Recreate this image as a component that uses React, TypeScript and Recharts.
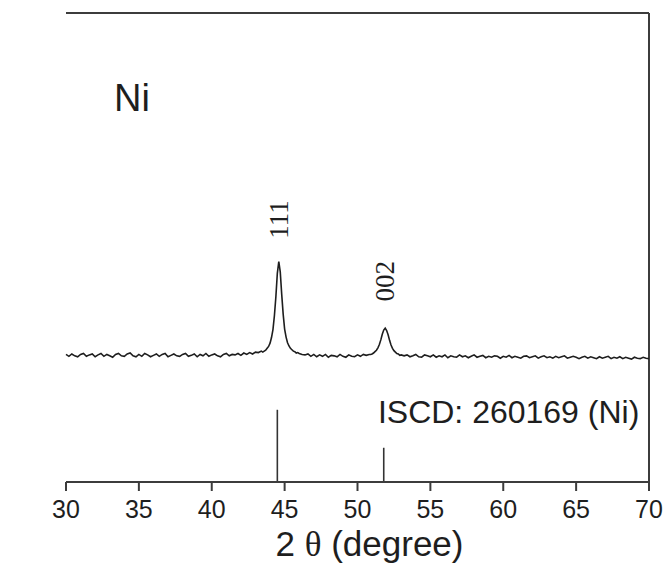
import {
  ComposedChart,
  Line,
  ReferenceDot,
  ReferenceLine,
  XAxis,
  YAxis,
} from "recharts";

// XRD scan, stored as runs of equally spaced samples (finer steps across the peaks)
const scanLeft = {
  start: 30.0,
  step: 0.2,
  counts: [
    27.2, 26.8, 27.3, 26.9, 26.7, 27.2, 27.4, 26.8, 27.1, 27.3,
    26.7, 27.1, 27.4, 26.8, 27.2, 26.9, 26.6, 27.2, 27.4, 26.9,
    26.8, 27.3, 27.5, 26.9, 26.7, 27.2, 26.8, 27.4, 27.1, 26.7,
    27.0, 27.3, 26.8, 27.2, 27.4, 26.7, 27.0, 27.3, 26.9, 26.8,
    27.2, 27.4, 26.8, 27.0, 27.3, 26.7, 27.2, 26.9, 27.4, 26.8,
    27.1, 27.3, 26.9, 26.7, 27.2, 27.4, 26.9, 27.2, 27.1, 27.4,
    27.0, 27.5, 27.2, 27.6, 27.3, 27.7, 27.6, 27.9,
  ],
};

const scanPeak111 = {
  start: 43.5,
  step: 0.1,
  counts: [
    27.7, 27.9, 28.1, 28.5, 28.9, 29.6, 30.8, 32.5, 35.5, 39.5, 44.5, 47.0,
    44.8, 40.0, 35.8, 32.6, 30.9, 29.7, 29.0, 28.5, 28.2, 27.9, 27.8, 27.5,
    27.6,
  ],
};

const scanMid = {
  start: 46.0,
  step: 0.2,
  counts: [
    27.4, 27.2, 27.1, 27.3, 26.8, 27.2, 26.7, 27.1, 26.8, 27.2,
    26.6, 27.0, 26.9, 26.7, 27.2, 26.8, 26.6, 27.1, 26.8, 26.7,
    27.1, 26.8, 27.2, 27.0, 27.2,
  ],
};

const scanPeak002 = {
  start: 50.9,
  step: 0.1,
  counts: [
    27.2, 27.3, 27.5, 27.8, 28.1, 28.6, 29.3, 30.3, 31.5, 32.4, 32.8,
    32.3, 31.4, 30.2, 29.2, 28.5, 28.0, 27.7, 27.4, 27.3, 27.0, 27.1,
  ],
};

const scanRight = {
  start: 53.2,
  step: 0.2,
  counts: [
    26.9, 27.1, 26.7, 26.9, 27.2, 26.7, 26.6, 27.1, 26.9, 26.7,
    27.1, 26.6, 26.9, 26.7, 27.1, 26.5, 26.9, 26.7, 26.6, 27.1,
    26.7, 26.9, 26.5, 26.8, 27.1, 26.6, 26.8, 27.0, 26.5, 26.8,
    26.6, 26.9, 26.8, 26.4, 26.8, 26.6, 27.0, 26.5, 26.8, 26.6,
    26.4, 26.8, 26.9, 26.5, 26.7, 26.9, 26.4, 26.7, 26.9, 26.5,
    26.7, 26.4, 26.8, 26.5, 26.7, 26.9, 26.4, 26.6, 26.8, 26.6,
    26.3, 26.6, 26.8, 26.4, 26.7, 26.5, 26.3, 26.7, 26.4, 26.6,
    26.8, 26.3, 26.6, 26.4, 26.7, 26.3, 26.6, 26.4, 26.2, 26.6,
    26.4, 26.3, 26.6, 26.4, 26.3,
  ],
};

// ICSD reference pattern for Ni
const refAngles = [44.5, 51.8];
const refIntensity = [15.4, 7.3];

// Miller indices over the measured peaks
const peakLabels = ["111", "002"];
const peakAngles = [44.6, 51.9];
const peakTops = [47.0, 32.8];

const xTicks = [30, 35, 40, 45, 50, 55, 60, 65, 70];

const scanData = [scanLeft, scanPeak111, scanMid, scanPeak002, scanRight].flatMap(
  (run) =>
    run.counts.map((counts, i) => ({
      angle: Number((run.start + i * run.step).toFixed(2)),
      counts,
    }))
);

const sans = "'Liberation Sans', Arial, sans-serif";
const serif = "'Liberation Serif', 'Times New Roman', serif";
const ink = "#1e1e1e";
const frame = "#3c3c3c";

const rotatedLabel =
  (text: string, lift: number) =>
  ({ viewBox }: any) => {
    const cx = viewBox.x + viewBox.width / 2;
    const cy = viewBox.y + viewBox.height / 2 - lift;
    return (
      <text
        x={cx}
        y={cy}
        transform={`rotate(-90, ${cx}, ${cy})`}
        textAnchor="middle"
        dominantBaseline="central"
        fontFamily={serif}
        fontSize={27}
        fill={ink}
      >
        {text}
      </text>
    );
  };

const plainLabel =
  (text: string, size: number) =>
  ({ viewBox }: any) => (
    <text
      x={viewBox.x + viewBox.width / 2}
      y={viewBox.y + viewBox.height / 2}
      fontFamily={sans}
      fontSize={size}
      fill={ink}
    >
      {text}
    </text>
  );

const XTitle = ({ viewBox }: any) => (
  <text
    x={viewBox.x + viewBox.width / 2 + 12}
    y={viewBox.y + 74}
    textAnchor="middle"
    fontFamily={sans}
    fontSize={35}
    fill={ink}
  >
    2 <tspan fontFamily={serif}>θ</tspan> (degree)
  </text>
);

const YTitle = ({ viewBox }: any) => {
  const cx = 29;
  const cy = viewBox.y + viewBox.height / 2;
  return (
    <text
      x={cx}
      y={cy}
      transform={`rotate(-90, ${cx}, ${cy})`}
      textAnchor="middle"
      dominantBaseline="central"
      fontFamily={sans}
      fontSize={35}
      fill={ink}
    >
      Intensity (a.u.)
    </text>
  );
};

export default function App() {
  return (
    <div style={{ width: 669, height: 565, background: "#fff" }}>
      <style>{"body{margin:0}"}</style>
      <ComposedChart
        width={669}
        height={565}
        data={scanData}
        margin={{ top: 13, right: 20, bottom: 53, left: 66 }}
      >
        <XAxis
          dataKey="angle"
          type="number"
          domain={[30, 70]}
          ticks={xTicks}
          tickSize={9}
          tickMargin={9}
          axisLine={{ stroke: frame, strokeWidth: 2 }}
          tickLine={{ stroke: frame, strokeWidth: 2 }}
          tick={{ fill: ink, fontSize: 25, fontFamily: sans }}
          label={<XTitle />}
        />
        <YAxis
          type="number"
          domain={[0, 100]}
          width={0}
          tick={false}
          tickLine={false}
          axisLine={{ stroke: frame, strokeWidth: 2 }}
          label={<YTitle />}
        />
        <ReferenceLine y={100} stroke={frame} strokeWidth={2} />
        <ReferenceLine x={70} stroke={frame} strokeWidth={2} />

        {refAngles.map((angle, i) => (
          <ReferenceLine
            key={angle}
            segment={[
              { x: angle, y: 0 },
              { x: angle, y: refIntensity[i] },
            ]}
            stroke="#333"
            strokeWidth={1.6}
          />
        ))}

        <Line
          dataKey="counts"
          type="linear"
          stroke={ink}
          strokeWidth={1.6}
          dot={false}
          isAnimationActive={false}
        />

        {peakLabels.map((text, i) => (
          <ReferenceDot
            key={text}
            x={peakAngles[i]}
            y={peakTops[i]}
            r={1}
            fill="none"
            stroke="none"
            label={rotatedLabel(text, i === 0 ? 42 : 47)}
          />
        ))}

        <ReferenceDot
          x={33.3}
          y={79}
          r={1}
          fill="none"
          stroke="none"
          label={plainLabel("Ni", 38)}
        />
        <ReferenceDot
          x={51.4}
          y={12.6}
          r={1}
          fill="none"
          stroke="none"
          label={plainLabel("ISCD: 260169 (Ni)", 32)}
        />
      </ComposedChart>
    </div>
  );
}
